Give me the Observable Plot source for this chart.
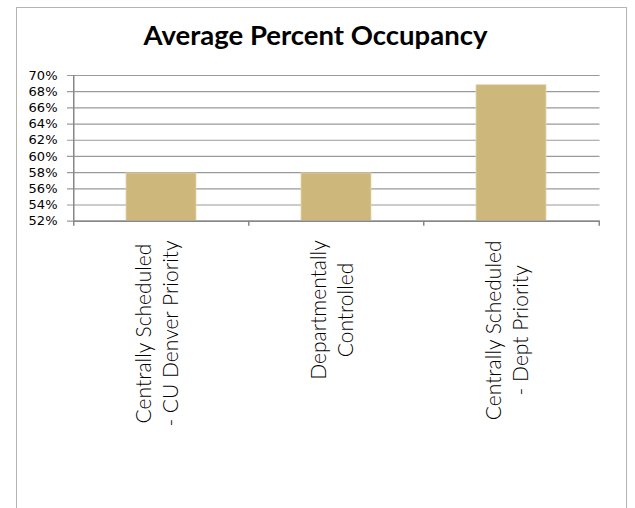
<!DOCTYPE html>
<html>
<head>
<meta charset="utf-8">
<script src="https://cdn.jsdelivr.net/npm/d3@7"></script>
<script src="https://cdn.jsdelivr.net/npm/@observablehq/plot@0.6"></script>
<style>
  html, body { margin: 0; padding: 0; background: #fff; }
  #frame { position: absolute; left: 16px; top: 7px; width: 611px; height: 620px;
           border: 1.5px solid #b4b4b4; box-sizing: border-box; }
  #wrap { position: absolute; left: 0; top: 0; width: 635px; }
  #title { height: 55px; box-sizing: border-box; padding-top: 21px; text-align: center;
           font-family: Lato, sans-serif; font-weight: 700; font-size: 27.5px; line-height: 1;
           color: #000; padding-right: 4px; }
  svg { display: block; }
</style>
</head>
<body>
<div id="frame"></div>
<div id="wrap">
  <div id="title">Average Percent Occupancy</div>
  <div id="chart"></div>
</div>
<script>
const categories = [
  "Centrally Scheduled\n- CU Denver Priority",
  "Departmentally\nControlled",
  "Centrally Scheduled\n- Dept Priority"
];
const values = [0.579, 0.579, 0.688];
const yTicks = [0.52, 0.54, 0.56, 0.58, 0.60, 0.62, 0.64, 0.66, 0.68, 0.70];
const yDomain = [0.52, 0.70];

const data = categories.map((c, i) => ({cat: c, value: values[i]}));

const W = 635, H = 453;
const mL = 73, mR = 35.5, mT = 20, mB = 287.3;
const pInner = 0.6, pOuter = 0.3;
const step = (W - mL - mR) / (categories.length - pInner + 2 * pOuter);

const labelFont = {size: 21, family: "Lato", weight: 300};
const ctx = document.createElement("canvas").getContext("2d");
ctx.font = `${labelFont.weight} ${labelFont.size}px "${labelFont.family}"`;
const maxWidth = c => Math.max(...c.split("\n").map(s => ctx.measureText(s).width));

const gridColor = "#9a9a9a";
const axisColor = "#878787";
const fmt = d3.format(".0%");

const chart = Plot.plot({
  width: W, height: H,
  marginLeft: mL, marginRight: mR, marginTop: mT, marginBottom: mB,
  x: {domain: categories, paddingInner: pInner, paddingOuter: pOuter, axis: null},
  y: {domain: yDomain, axis: null},
  marks: [
    Plot.ruleY(yTicks, {stroke: gridColor, strokeWidth: 1.2, insetLeft: -6}),
    Plot.barY(data, {x: "cat", y1: () => yDomain[0], y2: "value", fill: "#cdb77a", stroke: "#e3d6b0", strokeWidth: 0.8}),
    Plot.ruleY([yDomain[0]], {stroke: axisColor, strokeWidth: 1.5}),
    Plot.ruleX([categories[0]], {dx: -step / 2, y1: yDomain[0], y2: yDomain[1], stroke: axisColor, strokeWidth: 1.5}),
    Plot.ruleX(categories, {dx: -step / 2, y1: yDomain[0], y2: yDomain[0], insetBottom: -5, stroke: axisColor, strokeWidth: 1.5}),
    Plot.ruleX([categories[categories.length - 1]], {dx: step / 2, y1: yDomain[0], y2: yDomain[0], insetBottom: -5, stroke: axisColor, strokeWidth: 1.5}),
    Plot.text(yTicks, {y: d => d, text: d => fmt(d), frameAnchor: "left", textAnchor: "end", dx: -16,
      fontFamily: "DejaVu Sans", fontSize: 13, fill: "#000"}),
    ...categories.map(c => Plot.text([c], {
      x: d => d, text: d => d, frameAnchor: "bottom", rotate: -90,
      textAnchor: "middle", lineAnchor: "middle", lineHeight: 1.31,
      dx: -6, dy: 19 + maxWidth(c) / 2,
      fontFamily: labelFont.family, fontWeight: labelFont.weight, fontSize: labelFont.size, fill: "#000"
    }))
  ]
});
document.getElementById("chart").appendChild(chart);
</script>
</body>
</html>
